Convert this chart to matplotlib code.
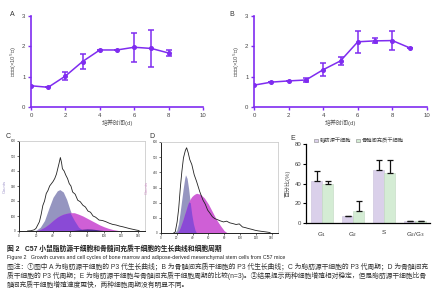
import matplotlib
matplotlib.use("Agg")
import matplotlib.pyplot as plt
import numpy as np
from matplotlib.patches import Patch

plt.rcParams['font.family'] = ['Liberation Sans', 'Noto Sans CJK SC', 'DejaVu Sans']

# ---- Data: growth curves ----
days_a = [0, 1, 2, 3, 4, 5, 6, 7, 8]
cells_a = [0.70, 0.65, 1.02, 1.50, 1.88, 1.88, 1.97, 1.93, 1.78]
err_a = [0.0, 0.0, 0.13, 0.25, 0.0, 0.0, 0.48, 0.62, 0.10]

days_b = [0, 1, 2, 3, 4, 5, 6, 7, 8, 9]
cells_b = [0.72, 0.82, 0.86, 0.89, 1.23, 1.52, 2.15, 2.18, 2.19, 1.95]
err_b = [0.0, 0.0, 0.0, 0.06, 0.22, 0.12, 0.37, 0.08, 0.30, 0.0]

# ---- Data: flow cytometry C ----
c_trace_x = [10, 14, 18, 20, 22, 24, 26, 28, 30, 32, 34, 36, 38, 40, 42, 44, 46, 47, 48.6, 50, 51, 53, 55, 57, 59,
             61, 63, 66, 69, 72, 75, 78, 81, 84, 87, 90, 94, 98, 102, 106, 110, 114, 118, 122, 126, 130, 134, 138, 141]
c_trace_y = [0, 2, 8, 18, 40, 62, 110, 170, 200, 250, 270, 300, 315, 330, 350, 380, 427, 450, 490, 455, 415, 400, 372, 350, 316,
             300, 260, 245, 205, 195, 172, 160, 133, 125, 100, 92, 73, 70, 62, 52, 44, 40, 33, 28, 22, 16, 11, 6, 3]
c_comp_x = [15, 20, 25, 30, 35, 40, 45, 48, 52, 56, 60, 65, 70, 75, 80, 85, 90, 95, 100, 105, 110, 115, 120]
c_g1 = [0, 5, 25, 70, 150, 225, 268, 276, 260, 210, 140, 70, 25, 5, 0, 0, 0, 0, 0, 0, 0, 0, 0]
c_s = [0, 0, 10, 25, 45, 70, 92, 102, 112, 118, 122, 122, 112, 100, 85, 70, 55, 40, 28, 18, 10, 5, 0]
c_g2 = [0, 0, 0, 0, 0, 0, 0, 0, 0, 0, 2, 5, 9, 12, 14, 13, 10, 6, 3, 1, 0, 0, 0]

# ---- Data: flow cytometry D ----
d_trace_x = [16, 18, 20.4, 22.4, 24.4, 26.4, 28.4, 30.8, 32.4, 34.4, 36.4, 39, 42, 45, 49, 53, 56, 59, 62, 65, 68, 71,
             75, 79, 83, 87, 91, 95, 99, 103, 107, 111, 115, 119, 123, 127, 133, 138]
d_trace_y = [0, 7, 73, 162, 295, 406, 495, 544, 562, 529, 484, 451, 384, 340, 273, 218, 190, 151, 130, 107, 95, 89,
             80, 73, 78, 67, 62, 56, 60, 40, 35, 29, 24, 18, 14, 11, 7, 3]
d_comp_x = [17, 20, 22, 24, 26, 28, 30, 31, 33, 35, 37, 39, 41, 43, 45, 50, 55, 60, 65, 70, 75, 80, 84]
d_g1 = [0, 20, 60, 130, 210, 290, 360, 384, 360, 290, 200, 120, 60, 20, 0, 0, 0, 0, 0, 0, 0, 0, 0]
d_s = [0, 0, 10, 30, 60, 90, 125, 140, 175, 205, 225, 240, 250, 257, 262, 255, 230, 190, 140, 90, 50, 15, 0]

# ---- Data: cell cycle comparison E ----
phases = ['G$_1$', 'G$_2$', 'S', 'G$_2$/G$_3$']
adipose = [42.4, 6.8, 53.2, 2.0]
adipose_err = [10.0, 0.0, 10.8, 0.0]
marrow = [39.7, 11.9, 50.2, 2.0]
marrow_err = [3.3, 10.5, 13.8, 0.0]
legend_labels = ['脂肪源干细胞', '骨髓间充质干细胞']

W, H = 445, 300
fig = plt.figure(figsize=(W / 100, H / 100), dpi=100)

def ax_px(l, r, t, b):
    return fig.add_axes([l / W, 1 - b / H, (r - l) / W, (b - t) / H])

PURPLE = '#7f2cf0'
tick_fs = 4.3

def growth(ax, x, y, e, label, lx):
    ax.errorbar(x, y, yerr=e, color=PURPLE, lw=1.1, marker='o', ms=2.6,
                capsize=2.5, capthick=1.1, elinewidth=1.1)
    ax.set_xlim(0, 10)
    ax.set_ylim(0, 3)
    ax.set_xticks([0, 2, 4, 6, 8, 10])
    ax.set_yticks([0, 1, 2, 3])
    for s in ['top', 'right']:
        ax.spines[s].set_visible(False)
    for s in ['left', 'bottom']:
        ax.spines[s].set_color(PURPLE)
        ax.spines[s].set_linewidth(1.2)
    ax.tick_params(colors=PURPLE, labelcolor='#444444', labelsize=tick_fs, length=2, width=1, pad=2)
    ax.set_xlabel('培养时间(d)', fontsize=4.3, color='#555555', labelpad=1.5)
    ax.set_ylabel('细胞数(×10$^5$个)', fontsize=4.3, color='#555555', labelpad=2)
    fig.text(lx / W, 1 - 14 / H, label, fontsize=5, color='#333333', va='center', ha='center')

axA = ax_px(31, 203, 16, 107)
growth(axA, days_a, cells_a, err_a, 'A', 12)
axB = ax_px(254, 427, 16, 107)
growth(axB, days_b, cells_b, err_b, 'B', 232)

GREY = '#9595c0'
MAG = '#cf5fd6'
OVER = '#8a4ad6'

def flow(ax, tx, ty, cx, g1, s, label, lx, ylab_col):
    g1 = np.array(g1, float)
    s = np.array(s, float)
    lo = np.minimum(g1, s)
    ax.fill_between(cx, 0, g1, color=GREY, lw=0)
    ax.fill_between(cx, 0, s, color=MAG, lw=0)
    ax.fill_between(cx, 0, lo, color=OVER, lw=0)
    ax.plot(tx, ty, color='#222222', lw=0.6)
    ax.set_xlim(0, 148)
    ax.set_ylim(0, 600)
    ax.set_xticks(range(0, 141, 20))
    ax.set_yticks(range(0, 601, 100))
    ax.tick_params(labelsize=2.2, length=1.2, width=0.5, pad=1, colors='#333333')
    for sp in ['top', 'right']:
        ax.spines[sp].set_color('#cccccc')
        ax.spines[sp].set_linewidth(0.6)
    for sp in ['left', 'bottom']:
        ax.spines[sp].set_color('#222222')
        ax.spines[sp].set_linewidth(0.7)
    ax.set_ylabel('Counts', fontsize=3, color=ylab_col, labelpad=3)
    fig.text(lx / W, 1 - 136 / H, label, fontsize=5, color='#333333', va='center', ha='center')

axC = ax_px(19, 145, 141, 231)
flow(axC, c_trace_x, c_trace_y, c_comp_x, c_g1, c_s, 'C', 8, '#9a8fc8')
axC.fill_between(c_comp_x, 0, c_g2, color='#4a2a90', lw=0)

axD = ax_px(161, 278, 142, 233)
flow(axD, d_trace_x, d_trace_y, d_comp_x, d_g1, d_s, 'D', 152, '#d08fc8')

# ---- Panel E ----
axE = ax_px(306, 430, 144, 223)
LAV = '#dad0ea'
GRN = '#d4ecd4'
xpos = np.arange(len(phases))
bw = 0.355
axE.bar(xpos - bw / 2, adipose, bw, color=LAV, edgecolor='#c8bfd8', lw=0.4,
        yerr=[np.zeros(len(adipose)), adipose_err], error_kw=dict(ecolor='#111111', elinewidth=0.9, capsize=2.2, capthick=0.9))
axE.bar(xpos + bw / 2, marrow, bw, color=GRN, edgecolor='#c0d8c0', lw=0.4,
        yerr=[np.zeros(len(marrow)), marrow_err], error_kw=dict(ecolor='#111111', elinewidth=0.9, capsize=2.2, capthick=0.9))
axE.set_xlim(-0.52, 3.48)
axE.set_ylim(0, 80)
axE.set_yticks([0, 20, 40, 60, 80])
axE.set_xticks(xpos)
axE.set_xticklabels(phases)
for sp in ['top', 'right']:
    axE.spines[sp].set_visible(False)
for sp in ['left', 'bottom']:
    axE.spines[sp].set_linewidth(0.9)
axE.tick_params(axis='y', labelsize=4.3, length=2, width=0.8, pad=1.5, labelcolor='#444444')
axE.tick_params(axis='x', labelsize=4.5, length=0, pad=5, labelcolor='#333333')
axE.set_ylabel('百分比(%)', fontsize=4.3, color='#555555', labelpad=3)
fig.text(293 / W, 1 - 138 / H, 'E', fontsize=5, color='#333333', va='center', ha='center')
handles = [Patch(facecolor=LAV, edgecolor='#888888', lw=0.4), Patch(facecolor=GRN, edgecolor='#888888', lw=0.4)]
axE.legend(handles, legend_labels, loc='lower left', bbox_to_anchor=(0.05, 0.98), ncol=2, frameon=False,
           fontsize=3.8, handlelength=0.7, handleheight=0.7, handletextpad=0.3, columnspacing=1.0, borderaxespad=0,
           labelcolor='#444444')

# ---- Caption ----
cap_col = '#333333'
fig.text(7 / W, 1 - 249 / H, '图 2   C57 小鼠脂肪源干细胞和骨髓间充质干细胞的生长曲线和细胞周期',
         fontsize=4.9, color='#222222', va='center', ha='left', fontweight='bold')
fig.text(7 / W, 1 - 258 / H,
         'Figure 2   Growth curves and cell cycles of bone marrow and adipose-derived mesenchymal stem cells from C57 mice',
         fontsize=3.8, color='#222222', va='center', ha='left')
fig.text(7 / W, 1 - 267 / H,
         '图注：①图中 A 为脂肪源干细胞的 P3 代生长曲线；B 为骨髓间充质干细胞的 P3 代生长曲线；C 为脂肪源干细胞的 P3 代周期；D 为骨髓间充',
         fontsize=4.9, color=cap_col, va='center', ha='left')
fig.text(7 / W, 1 - 276 / H,
         '质干细胞的 P3 代周期；E 为脂肪源干细胞与骨髓间充质干细胞周期的比较(n=3)。②结果提示两种细胞增殖相对稳定，但是脂肪源干细胞比骨',
         fontsize=4.9, color=cap_col, va='center', ha='left')
fig.text(7 / W, 1 - 285 / H,
         '髓间充质干细胞增殖速度更快，两种细胞周期没有明显不同。',
         fontsize=4.9, color=cap_col, va='center', ha='left')

fig.savefig('out.png', dpi=100)
